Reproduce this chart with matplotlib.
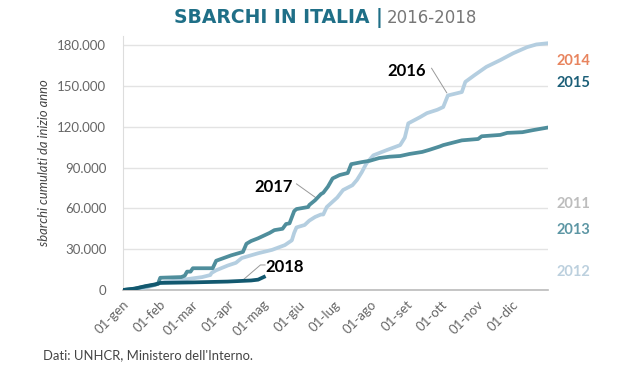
import numpy as np
import matplotlib.pyplot as plt

plt.rcParams['font.family'] = ['Lato', 'DejaVu Sans']

# cumulative landings, (day of year, value)
day_2016 = [0, 15, 25, 31, 36, 50, 68, 75, 76, 80, 90, 97, 102, 116, 128, 139, 145, 147, 149,
            156, 160, 165, 170, 172, 175, 184, 189, 197, 201, 205, 209, 215, 227, 238, 242,
            245, 255, 261, 270, 275, 279, 291, 294, 302, 312, 324, 335, 347, 355, 365]
val_2016 = [0, 800, 3000, 5000, 6000, 7400, 9500, 11000, 12500, 14500, 18000, 20000, 23500,
            27000, 29500, 33000, 36500, 42000, 46000, 47800, 51000, 53700, 55500, 55500, 61000,
            68000, 73500, 77000, 81000, 86500, 93000, 99000, 103000, 106500, 112000, 122500,
            127000, 130000, 132500, 134500, 143000, 145500, 153000, 158000, 164000, 169000,
            174000, 178500, 180500, 181400]

day_2017 = [0, 10, 19, 28, 30, 32, 50, 53, 55, 58, 60, 77, 80, 93, 103, 106, 110, 116, 126,
            130, 137, 140, 143, 147, 149, 159, 160, 165, 170, 172, 176, 180, 186, 193, 196,
            199, 205, 212, 220, 229, 238, 246, 257, 263, 272, 275, 291, 305, 308, 324, 330,
            343, 352, 364]
val_2017 = [0, 1000, 2500, 4000, 4500, 9000, 9500, 10500, 13500, 13500, 16000, 16000, 21500,
            25500, 28000, 34000, 36000, 38000, 42000, 44000, 45000, 48500, 49000, 58000, 59500,
            61000, 62500, 66000, 70500, 71500, 76000, 82000, 84500, 86000, 92500, 93000, 94000,
            95000, 97000, 98000, 98500, 100000, 101500, 103000, 105500, 106500, 110000, 111000,
            113000, 114000, 115500, 116000, 117500, 119300]

day_2018 = [0, 10, 19, 28, 32, 60, 90, 110, 116, 121]
val_2018 = [0, 1000, 2800, 4200, 5200, 5600, 6200, 7000, 7600, 9600]

month_starts = [0, 31, 59, 90, 120, 151, 181, 212, 243, 273, 304, 334]
month_labels = ['01-gen', '01-feb', '01-mar', '01-apr', '01-mag', '01-giu',
                '01-lug', '01-ago', '01-set', '01-ott', '01-nov', '01-dic']
y_ticks = [0, 30000, 60000, 90000, 120000, 150000, 180000]

side_years = ['2014', '2015', '2011', '2013', '2012']
side_vals = [168000, 152500, 63500, 44000, 13000]
side_colors = ['#e8845e', '#1c5f78', '#bdbdbd', '#5c96a4', '#bcd0de']

c16, c17, c18 = '#b4cee0', '#4f8e9c', '#12586f'

fig = plt.figure(figsize=(6.42, 3.74), dpi=100)
ax = fig.add_axes([0.1916, 0.2246, 0.662, 0.6802])

ax.plot(day_2016, val_2016, color=c16, lw=2.7, solid_joinstyle='round', zorder=3)
ax.plot(day_2017, val_2017, color=c17, lw=2.7, solid_joinstyle='round', zorder=4)
ax.plot(day_2018, val_2018, color=c18, lw=2.7, solid_joinstyle='round', zorder=5)

ax.set_xlim(0, 365)
ax.set_ylim(0, 187000)
ax.set_yticks(y_ticks)
ax.set_yticklabels([f'{v:,}'.replace(',', '.') for v in y_ticks])
ax.set_xticks(month_starts)
ax.set_xticklabels(month_labels, rotation=45, ha='right', rotation_mode='anchor')
ax.tick_params(length=0, colors='#666666', labelsize=9.5)
ax.tick_params(axis='x', pad=6)
ax.tick_params(axis='y', pad=12)
ax.grid(axis='y', color='#e3e3e3', lw=1)
ax.set_axisbelow(True)
for s in ['top', 'right']:
    ax.spines[s].set_visible(False)
ax.spines['left'].set_color('#dddddd')
ax.spines['bottom'].set_color('#bbbbbb')
ax.spines['bottom'].set_linewidth(1.2)
ax.set_ylabel('sbarchi cumulati da inizio anno', style='italic', color='#444444',
              fontsize=9.4, labelpad=5)

# labels for the drawn years
ax.text(244, 161000, '2016', ha='center', va='center', fontsize=12, fontweight='bold')
ax.plot([265, 278], [163000, 145000], color='#999999', lw=0.7)
ax.text(129, 75700, '2017', ha='center', va='center', fontsize=12, fontweight='bold')
ax.plot([149, 166], [78000, 67600], color='#999999', lw=0.7)
ax.text(139, 17000, '2018', ha='center', va='center', fontsize=12, fontweight='bold')
ax.plot([122, 118, 102], [18400, 18400, 6600], color='#999999', lw=0.7)

# other years, only listed at the side
for yr, v, c in zip(side_years, side_vals, side_colors):
    ax.text(372, v, yr, color=c, fontsize=10.5, fontweight='bold', va='center',
            clip_on=False)

fig.text(0.5966, 0.952, 'SBARCHI IN ITALIA |', color='#1f6f87', fontsize=13.5,
         fontweight='bold', ha='right', va='center', family='DejaVu Sans')
fig.text(0.603, 0.952, '2016-2018', color='#777777', fontsize=12,
         ha='left', va='center', family='DejaVu Sans')
fig.text(0.067, 0.05, "Dati: UNHCR, Ministero dell'Interno.", color='#444444',
         fontsize=9.4, ha='left', va='center')

fig.savefig('out.png', dpi=100)
